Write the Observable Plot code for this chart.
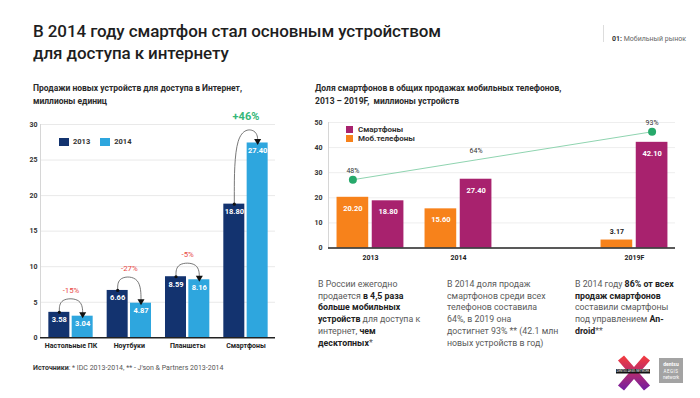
<!DOCTYPE html>
<html><head><meta charset="utf-8">
<script src="https://cdn.jsdelivr.net/npm/d3@7"></script>
<script src="https://cdn.jsdelivr.net/npm/@observablehq/plot@0.6"></script>
<style>
body{margin:0;background:#fff;font-family:Roboto,"Open Sans",sans-serif;}
#page{position:relative;width:700px;height:398px;overflow:hidden;background:#fff;}
.abs{position:absolute;}
#title{left:33px;top:20px;font-size:17px;line-height:22px;font-weight:500;color:#1e1e1e;letter-spacing:-0.1px;white-space:nowrap;}
.sub{top:82px;font-size:8.5px;line-height:12.5px;font-weight:700;color:#2a2a2a;white-space:nowrap;}
.txt{top:279px;font-size:8.8px;line-height:11.7px;color:#5a5a5a;white-space:nowrap;}
.txt b{color:#222;font-weight:700;}
.leg{font-size:7.5px;font-weight:700;color:#333;display:flex;align-items:center;}
.sw{display:inline-block;width:10px;height:8px;margin-right:4px;}
#tag{left:612px;top:35px;font-size:7px;color:#666;white-space:nowrap;}
#tag b{color:#333;}
#sep{left:603px;top:25px;width:1px;height:17px;background:#ddd;}
#src{left:33px;top:364px;font-size:7px;color:#555;white-space:nowrap;}
#src b{color:#333;}
</style></head><body><div id="page">
<div id="title" class="abs">В 2014 году смартфон стал основным устройством<br>для доступа к интернету</div>
<div id="sep" class="abs"></div>
<div id="tag" class="abs"><b>01:</b> Мобильный рынок</div>
<div class="abs sub" style="left:33px">Продажи новых устройств для доступа в Интернет,<br>миллионы единиц</div>
<div class="abs sub" style="left:315px">Доля смартфонов в общих продажах мобильных телефонов,<br>2013 – 2019F,&nbsp; миллионы устройств</div>
<div id="left" class="abs" style="left:0;top:110px"></div>
<div id="right" class="abs" style="left:300px;top:110px"></div>
<div id="legL" class="abs leg" style="left:59px;top:137px"></div>
<div id="legR" class="abs" style="left:346px;top:125px"></div>
<div class="abs txt" style="left:318px">В России ежегодно<br>продается <b>в 4,5 раза</b><br><b>больше мобильных</b><br><b>устройств</b> для доступа к<br>интернет, <b>чем</b><br><b>десктопных</b>*</div>
<div class="abs txt" style="left:447px">В 2014 доля продаж<br>смартфонов среди всех<br>телефонов составила<br>64%, в 2019 она<br>достигнет 93% ** (42.1 млн<br>новых устройств в год)</div>
<div class="abs txt" style="left:575px">В 2014 году <b>86% от всех</b><br><b>продаж смартфонов</b><br>составили смартфоны<br>под управлением <b>An-</b><br><b>droid</b>**</div>
<div id="src" class="abs"><b>Источники</b>: * IDC 2013-2014, ** - J'son &amp; Partners 2013-2014</div>
<svg class="abs" style="left:610px;top:352px" width="80" height="40" viewBox="610 352 80 40">
 <defs><linearGradient id="xg" x1="0" y1="0" x2="0" y2="1"><stop offset="0" stop-color="#ee3a43"/><stop offset="1" stop-color="#7a1f9c"/></linearGradient></defs>
 <path d="M621 358 L647 388 M647 358 L621 388" stroke="url(#xg)" stroke-width="8" fill="none"/>
 <rect x="616" y="369" width="34" height="4.5" fill="#111"/>
 <text x="633" y="372.3" font-size="2.8" fill="#fff" text-anchor="middle" font-family="Roboto">DENTSU AEGIS NETWORK</text>
 <rect x="659" y="358" width="24" height="25" fill="#a3a3a3"/>
 <text x="671" y="366" font-size="5" fill="#fff" text-anchor="middle" font-family="Roboto" font-weight="700">dentsu</text>
 <text x="671" y="372.5" font-size="4.5" fill="#fff" text-anchor="middle" font-family="Roboto" letter-spacing="0.5">AEGIS</text>
 <text x="671" y="379" font-size="4.5" fill="#fff" text-anchor="middle" font-family="Roboto">network</text>
</svg>
</div>
<script>
// ---------- data: left chart ----------
const deviceCategories = ["Настольные ПК", "Ноутбуки", "Планшеты", "Смартфоны"];
const salesYears = ["2013", "2014"];
const sales2013 = [3.58, 6.66, 8.59, 18.80];
const sales2014 = [3.04, 4.87, 8.16, 27.40];
const changeLabels = ["-15%", "-27%", "-5%", "+46%"];
const leftYTicks = [0, 5, 10, 15, 20, 25, 30];

// ---------- data: right chart ----------
const phoneSlots = ["2013", "2014", "", "2019F"];
const phoneYears = ["2013", "2014", "2019F"];
const phoneSeries = ["Смартфоны", "Моб.телефоны"];
const mobilePhones = [20.20, 15.60, 3.17];
const smartphones = [18.80, 27.40, 42.10];
const shareLabels = ["48%", "64%", "93%"];
const shareOver = ["Моб.телефоны", "Смартфоны", "Смартфоны"];
const shareLevel = [27.2, 35.1, 46.3];
const shareDot = [true, false, true];
const rightYTicks = [0, 10, 20, 30, 40, 50];

// ---------- styles ----------
const C13 = "#13336f", C14 = "#2ea6de";
const CMOB = "#f7821b", CSMART = "#a8226e";
const FONT = "Roboto, 'Open Sans', sans-serif";
const IN = 0.02, OUT = 0.38, HALF = (IN + OUT) / 2;

// ---------- left chart ----------
const leftRows = deviceCategories.flatMap((c, i) => [
  {cat: c, i, year: salesYears[0], v: sales2013[i], side: -1},
  {cat: c, i, year: salesYears[1], v: sales2014[i], side: 1}
]);
const arcRows = deviceCategories.flatMap((c, i) => {
  const top = Math.max(sales2013[i], sales2014[i]) + 2;
  return [
    {cat: c, x: i - HALF, y: sales2013[i]},
    {cat: c, x: i - HALF, y: top},
    {cat: c, x: i + HALF, y: top},
    {cat: c, x: i + HALF, y: sales2014[i]}
  ];
});
const changeRows = deviceCategories.map((c, i) => ({
  i, label: changeLabels[i], top: Math.max(sales2013[i], sales2014[i]) + 2, up: changeLabels[i].startsWith("+")
}));
const xDomL = [-0.523, 3.506];
const left = Plot.plot({
  width: 300, height: 245, marginTop: 14, marginBottom: 17.7, marginLeft: 40, marginRight: 25,
  x: {domain: xDomL, axis: null},
  y: {domain: [0, 30], axis: null},
  style: {fontFamily: FONT, background: "transparent", overflow: "visible"},
  marks: [
    Plot.gridY(leftYTicks.filter(t => t > 0), {stroke: "#e9e9e9", strokeOpacity: 1}),
    Plot.ruleX([xDomL[0]], {stroke: "#d6d6d6", y1: 0, y2: 30}),
    Plot.axisY(leftYTicks, {tickSize: 0, tickPadding: 3, fontSize: 7, fontWeight: "bold", fill: "#333", label: null}),
    Plot.rectY(leftRows, {
      x1: d => d.side < 0 ? d.i - OUT : d.i + IN,
      x2: d => d.side < 0 ? d.i - IN : d.i + OUT,
      y: "v", fill: d => d.side < 0 ? C13 : C14
    }),
    Plot.ruleY([0], {stroke: "#222", strokeWidth: 1.5}),
    Plot.text(leftRows, {x: d => d.i + d.side * HALF, y: "v", text: d => d.v.toFixed(2), dy: 7.5,
      fill: "white", fontWeight: "bold", fontSize: 7.5}),
    Plot.line(arcRows, {x: "x", y: "y", z: "cat", curve: "basis", stroke: "#555", strokeWidth: 0.8}),
    Plot.dot(leftRows.filter(d => d.side < 0), {x: d => d.i - HALF, y: "v", r: 1.6, fill: "#111"}),
    Plot.dot(leftRows.filter(d => d.side > 0), {x: d => d.i + HALF, y: "v", r: 2.6, symbol: "triangle", rotate: 180, fill: "#111", dy: -2}),
    Plot.text(changeRows.filter(d => !d.up), {x: "i", y: "top", text: "label", dy: -8,
      fill: "#e8473f", fontSize: 7.8}),
    Plot.text(changeRows.filter(d => d.up), {x: "i", y: "top", text: "label", dy: -12,
      fill: "#35b779", fontSize: 11, fontWeight: "bold"}),
    Plot.axisX(deviceCategories.map((c, i) => i), {tickFormat: i => deviceCategories[i], tickSize: 0, tickPadding: 5,
      fontSize: 7, fontWeight: "bold", fill: "#222", label: null})
  ]
});
document.getElementById("left").append(left);

// ---------- right chart ----------
const pos = y => phoneSlots.indexOf(y);
const rightRows = phoneYears.flatMap((y, k) => [
  {year: y, p: pos(y), series: phoneSeries[1], v: mobilePhones[k], side: -1},
  {year: y, p: pos(y), series: phoneSeries[0], v: smartphones[k], side: 1}
]);
const shareRows = phoneYears.map((y, k) => ({
  x: pos(y) + (shareOver[k] === phoneSeries[0] ? HALF : -HALF), y: shareLevel[k], label: shareLabels[k], dot: shareDot[k]
}));
const xDomR = [-0.477, 3.466];
const right = Plot.plot({
  width: 400, height: 155, marginTop: 12, marginBottom: 17.5, marginLeft: 28, marginRight: 25,
  x: {domain: xDomR, axis: null},
  y: {domain: [0, 50], axis: null},
  style: {fontFamily: FONT, background: "transparent", overflow: "visible"},
  marks: [
    Plot.gridY(rightYTicks.filter(t => t > 0), {stroke: "#eeeeee", strokeOpacity: 1}),
    Plot.ruleX([xDomR[0]], {stroke: "#d6d6d6", y1: 0, y2: 50}),
    Plot.axisY(rightYTicks, {tickSize: 0, tickPadding: 6, fontSize: 7, fontWeight: "bold", fill: "#333", label: null}),
    Plot.rectY(rightRows, {
      x1: d => d.side < 0 ? d.p - OUT : d.p + IN,
      x2: d => d.side < 0 ? d.p - IN : d.p + OUT,
      y: "v", fill: d => d.side < 0 ? CMOB : CSMART
    }),
    Plot.ruleY([0], {stroke: "#222", strokeWidth: 1.5}),
    Plot.text(rightRows.filter(d => d.v >= 5), {x: d => d.p + d.side * HALF, y: "v", text: d => d.v.toFixed(2), dy: 11,
      fill: "white", fontWeight: "bold", fontSize: 7.5}),
    Plot.text(rightRows.filter(d => d.v < 5), {x: d => d.p + d.side * HALF, y: "v", text: d => d.v.toFixed(2), dy: -8,
      fill: "#222", fontWeight: "bold", fontSize: 7}),
    Plot.line(shareRows, {x: "x", y: "y", stroke: "#8fd4b0", strokeWidth: 1}),
    Plot.dot(shareRows.filter(d => d.dot), {x: "x", y: "y", r: 4, fill: "#27a96b"}),
    Plot.text(shareRows, {x: "x", y: "y", text: "label", dy: -9, fontSize: 7, fill: "#333"}),
    Plot.axisX(phoneYears.map(pos), {tickFormat: p => phoneSlots[p], tickSize: 0, tickPadding: 7.5,
      fontSize: 7, fontWeight: "bold", fill: "#222", label: null})
  ]
});
document.getElementById("right").append(right);

// ---------- legends ----------
const legL = document.getElementById("legL");
salesYears.forEach((y, k) => {
  const s = document.createElement("span");
  s.style.cssText = "display:inline-flex;align-items:center;margin-right:10px";
  s.innerHTML = `<span class="sw" style="background:${k ? C14 : C13}"></span>${y}`;
  legL.append(s);
});
const legR = document.getElementById("legR");
phoneSeries.forEach((n, k) => {
  const s = document.createElement("div");
  s.className = "leg";
  s.style.cssText = "height:8.5px;margin-bottom:0.5px;font-size:8px";
  s.innerHTML = `<span class="sw" style="width:7px;height:7px;margin-right:5px;background:${k ? CMOB : CSMART}"></span>${n}`;
  legR.append(s);
});
</script>
</body></html>
